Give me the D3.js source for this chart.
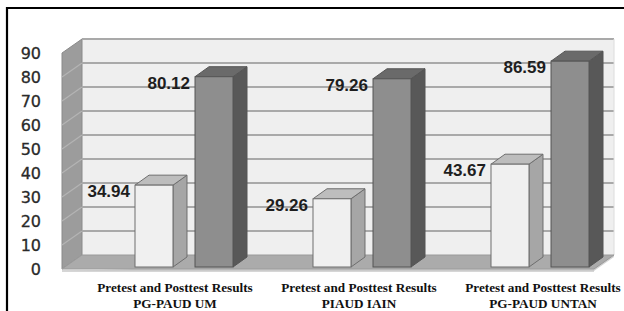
<!DOCTYPE html>
<html><head><meta charset="utf-8">
<script src="https://cdn.jsdelivr.net/npm/d3@7"></script>
<style>html,body{margin:0;padding:0;background:#fff;overflow:hidden}</style>
</head><body>
<svg id="c" width="624" height="311"></svg>
<script>
const categories = ["PG-PAUD UM", "PIAUD IAIN", "PG-PAUD UNTAN"];
const labelPrefix = "Pretest and Posttest Results";
const seriesNames = ["Pretest", "Posttest"];
const pretest = [34.94, 29.26, 43.67];
const posttest = [80.12, 79.26, 86.59];
const yTicks = [0, 10, 20, 30, 40, 50, 60, 70, 80, 90];

const svg = d3.select("#c");
const y = d3.scaleLinear().domain([0, 90]).range([269, 53]);
const x0 = d3.scaleBand().domain(categories).range([62, 596]).padding(0);
const x1 = d3.scaleBand().domain(seriesNames).range([73, 171]).paddingInner(0.367).paddingOuter(0);
const xl = d3.scalePoint().domain(categories).range([175, 543]);

const wdx = 20, wdy = -14;   // wall depth
const bdx = 14, bdy = -10;   // bar depth
const left = 62, right = 594;
const poly = pts => pts.map(p => p.join(",")).join(" ");

// frame
svg.append("path").attr("d", "M7,320 L7,8 L624,8").attr("fill", "none").attr("stroke", "#000").attr("stroke-width", 2.2);

// back wall
svg.append("rect").attr("x", left + wdx).attr("y", y(90) + wdy)
  .attr("width", right + wdx - (left + wdx)).attr("height", y(0) - y(90))
  .attr("fill", "#efefef");
// side wall
svg.append("polygon").attr("points", poly([[left, y(90)], [left + wdx, y(90) + wdy], [left + wdx, y(0) + wdy], [left, y(0)]]))
  .attr("fill", "#9c9c9c").attr("stroke", "#8a8a8a").attr("stroke-width", 1);
// gridlines
svg.append("g").selectAll("line").data(yTicks.filter(d => d > 0)).join("line")
  .attr("x1", left + wdx).attr("x2", right + wdx)
  .attr("y1", d => y(d) + wdy).attr("y2", d => y(d) + wdy)
  .attr("stroke", "#a9a9a9").attr("stroke-width", 2);
svg.append("g").selectAll("line").data(yTicks.filter(d => d > 0 && d < 90)).join("line")
  .attr("x1", left).attr("x2", left + wdx)
  .attr("y1", d => y(d)).attr("y2", d => y(d) + wdy)
  .attr("stroke", "#b4b4b4").attr("stroke-width", 1.2);
// wall right edge
svg.append("line").attr("x1", right + wdx).attr("x2", right + wdx).attr("y1", y(90) + wdy).attr("y2", y(0) + wdy)
  .attr("stroke", "#dcdcdc").attr("stroke-width", 1);
// floor
svg.append("polygon").attr("points", poly([[left, y(0) + 2], [right, y(0) + 2], [right + wdx, y(0) + wdy + 2], [right + wdx, y(0) + wdy]]))
  .attr("fill", "#d4d4d4");
svg.append("polygon").attr("points", poly([[left, y(0)], [left + wdx, y(0) + wdy], [right + wdx, y(0) + wdy], [right, y(0)]]))
  .attr("fill", "#ababab").attr("stroke", "#9a9a9a").attr("stroke-width", 1);
svg.append("line").attr("x1", left).attr("x2", right).attr("y1", y(0) + 2).attr("y2", y(0) + 2)
  .attr("stroke", "#c8c8c8").attr("stroke-width", 1.5);

// y tick labels
svg.append("g").selectAll("text").data(yTicks).join("text")
  .attr("x", 41).attr("y", d => y(d) + 1).attr("text-anchor", "end").attr("dominant-baseline", "middle")
  .attr("font-family", "DejaVu Sans, Verdana, sans-serif").attr("font-size", 16).attr("fill", "#2a2a2a")
  .attr("stroke", "#2a2a2a").attr("stroke-width", 0.3)
  .text(d => d);

// bars
const styles = {
  Pretest: { front: "#f0f0f0", top: "#bdbdbd", side: "#a6a6a6", stroke: "#6e6e6e" },
  Posttest: { front: "#8e8e8e", top: "#6a6a6a", side: "#585858", stroke: "#555" }
};
const barData = [];
categories.forEach((c, i) => {
  barData.push({ cat: c, s: "Pretest", v: pretest[i] });
  barData.push({ cat: c, s: "Posttest", v: posttest[i] });
});
const bw = x1.bandwidth();
const yb = y(0) - 2;
const g = svg.append("g").selectAll("g").data(barData).join("g");
g.each(function (d) {
  const sel = d3.select(this);
  const bx = x0(d.cat) + x1(d.s), ty = y(d.v), st = styles[d.s];
  sel.append("polygon").attr("points", poly([[bx + bw, ty], [bx + bw + bdx, ty + bdy], [bx + bw + bdx, yb + bdy], [bx + bw, yb]]))
    .attr("fill", st.side).attr("stroke", st.stroke).attr("stroke-width", 1);
  sel.append("polygon").attr("points", poly([[bx, ty], [bx + bdx, ty + bdy], [bx + bw + bdx, ty + bdy], [bx + bw, ty]]))
    .attr("fill", st.top).attr("stroke", st.stroke).attr("stroke-width", 1);
  sel.append("rect").attr("x", bx).attr("y", ty).attr("width", bw).attr("height", yb - ty)
    .attr("fill", st.front).attr("stroke", st.stroke).attr("stroke-width", 1);
  sel.append("text").attr("x", bx - 5).attr("y", ty + 12).attr("text-anchor", "end")
    .attr("font-family", "Liberation Sans, Arial, sans-serif").attr("font-weight", "bold")
    .attr("font-size", 17).attr("fill", "#1e1e1e").text(d.v.toFixed(2));
});

// category labels
const cl = svg.append("g").selectAll("text").data(categories).join("text")
  .attr("text-anchor", "middle")
  .attr("font-family", "Liberation Serif, Times New Roman, serif").attr("font-weight", "bold")
  .attr("font-size", 13.2).attr("fill", "#111");
cl.append("tspan").attr("x", d => xl(d)).attr("y", 292).text(labelPrefix);
cl.append("tspan").attr("x", d => xl(d)).attr("y", 308).text(d => d);
</script>
</body></html>
